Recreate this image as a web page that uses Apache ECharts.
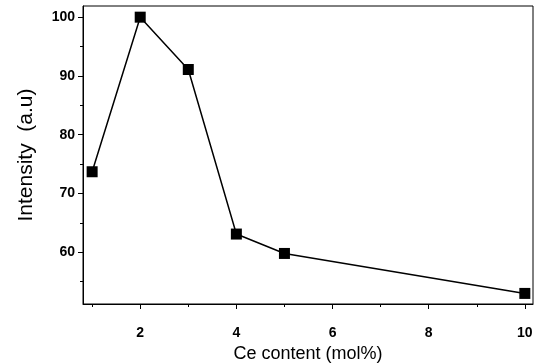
<!DOCTYPE html>
<html>
<head>
<meta charset="utf-8">
<script src="https://cdn.jsdelivr.net/npm/echarts@6/dist/echarts.min.js"></script>
<style>html,body{margin:0;padding:0;background:#fff}#c{width:537px;height:363px}</style>
</head>
<body>
<div id="c"></div>
<script>
const ceContent = [1, 2, 3, 4, 5, 10];
const intensity = [73.7, 100, 91.1, 63.1, 59.8, 53.0];
const xMajorTicks = [2, 4, 6, 8, 10];
const xMinorTicks = [1, 3, 5, 7, 9];
const yMajorTicks = [60, 70, 80, 90, 100];
const yMinorTicks = [55, 65, 75, 85, 95];

const chart = echarts.init(document.getElementById('c'));
const labelFont = {fontFamily: 'Liberation Sans, Arial, sans-serif', fontWeight: 'bold', fontSize: 14, color: '#000'};
const xRange = {min: 0.81, max: 10.17};
const yRange = {min: 51.2, max: 101.9};
chart.setOption({
  animation: false,
  grid: {left: 83, right: 4, top: 6, bottom: 59, outerBoundsMode: 'none', containLabel: false, show: true, borderColor: '#000', borderWidth: 1, backgroundColor: 'transparent'},
  xAxis: [
    Object.assign({type: 'value', position: 'bottom', name: 'Ce content (mol%)', nameLocation: 'middle', nameGap: 36,
      nameTextStyle: {fontFamily: 'Liberation Sans, Arial, sans-serif', fontSize: 18, color: '#000'},
      axisLine: {show: true, lineStyle: {color: '#000', width: 1}},
      axisTick: {show: true, inside: false, length: 5, customValues: xMajorTicks, lineStyle: {color: '#000'}},
      axisLabel: Object.assign({customValues: xMajorTicks, margin: 22}, labelFont),
      splitLine: {show: false}}, xRange),
    Object.assign({type: 'value', position: 'bottom', gridIndex: 0,
      axisLine: {show: false},
      axisTick: {show: true, inside: false, length: 3, customValues: xMinorTicks, lineStyle: {color: '#000'}},
      axisLabel: {show: false}, splitLine: {show: false}}, xRange)
  ],
  yAxis: [
    Object.assign({type: 'value', position: 'left', name: 'Intensity  (a.u)', nameLocation: 'middle', nameGap: 46,
      nameTextStyle: {fontFamily: 'Liberation Sans, Arial, sans-serif', fontSize: 21, color: '#000'},
      axisLine: {show: true, lineStyle: {color: '#000', width: 1}},
      axisTick: {show: true, inside: false, length: 5, customValues: yMajorTicks, lineStyle: {color: '#000'}},
      axisLabel: Object.assign({customValues: yMajorTicks, margin: 8}, labelFont),
      splitLine: {show: false}}, yRange),
    Object.assign({type: 'value', position: 'left', gridIndex: 0,
      axisLine: {show: false},
      axisTick: {show: true, inside: false, length: 3, customValues: yMinorTicks, lineStyle: {color: '#000'}},
      axisLabel: {show: false}, splitLine: {show: false}}, yRange)
  ],
  series: [{
    type: 'line',
    xAxisIndex: 0, yAxisIndex: 0,
    data: ceContent.map((x, i) => [x, intensity[i]]),
    symbol: 'rect', symbolSize: 11,
    itemStyle: {color: '#000'},
    lineStyle: {color: '#000', width: 1.5}
  }]
});
</script>
</body>
</html>
